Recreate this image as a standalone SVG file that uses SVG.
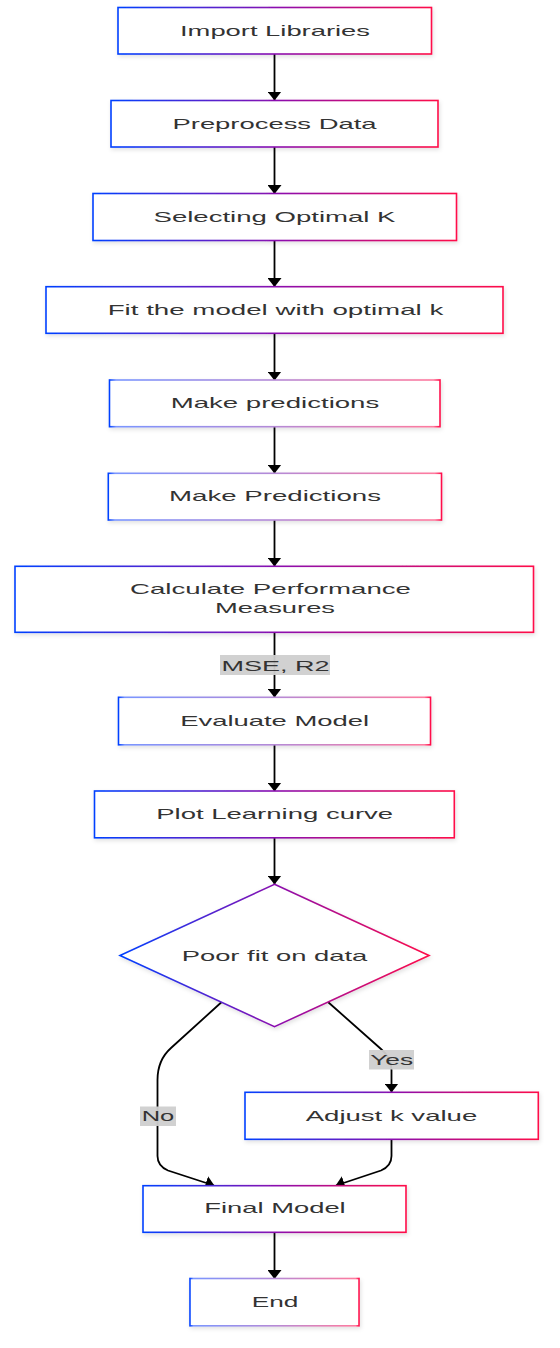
<svg xmlns="http://www.w3.org/2000/svg" width="560" height="1348" viewBox="0 0 560 1348">
<defs>
<linearGradient id="g" x1="0" y1="0" x2="1" y2="0">
<stop offset="0" stop-color="#0040ff"/>
<stop offset="0.5" stop-color="#8a10b0"/>
<stop offset="1" stop-color="#ff0a48"/>
</linearGradient>
<linearGradient id="gl" x1="0" y1="0" x2="1" y2="0">
<stop offset="0" stop-color="#0040ff"/>
<stop offset="0.02" stop-color="#7a95ff"/>
<stop offset="0.5" stop-color="#b58ad6"/>
<stop offset="0.98" stop-color="#ff7a9e"/>
<stop offset="1" stop-color="#ff0a48"/>
</linearGradient>
<filter id="sh" x="-10%" y="-20%" width="120%" height="150%">
<feDropShadow dx="1" dy="2" stdDeviation="2" flood-color="#000" flood-opacity="0.12"/>
</filter>
<marker id="ah" viewBox="0 0 9 14" refX="8.5" refY="7" markerWidth="9" markerHeight="14" markerUnits="userSpaceOnUse" orient="auto">
<path d="M0,0 L9,7 L0,14 z" fill="#000"/>
</marker>
</defs>
<style>
.n rect, .n polygon { fill: #ffffff; stroke: url(#g); stroke-width: 1.6; filter: url(#sh); }
.n.l rect { stroke: url(#gl); }
text { font-family: "Liberation Sans", Arial, sans-serif; font-size: 15px; fill: #333333; text-anchor: middle; }
.e path { fill: none; stroke: #000; stroke-width: 1.8; marker-end: url(#ah); }
.lb rect { fill: #cfcfcf; opacity: 0.95; }
</style>
<rect width="560" height="1348" fill="#ffffff"/>

<g id="connectors" class="e">
<path d="M274.5,54 L274.5,100"/>
<path d="M274.5,147 L274.5,193.5"/>
<path d="M274.5,240.5 L274.5,286.5"/>
<path d="M274.5,333.5 L274.5,380"/>
<path d="M274.5,427 L274.5,473"/>
<path d="M274.5,520 L274.5,566"/>
<path d="M274.5,632 L274.5,697"/>
<path d="M274.5,745 L274.5,791"/>
<path d="M274.5,838 L274.5,884"/>
<path d="M221.7,1002 L171,1048 Q157.5,1060 157.5,1080 L157.5,1156 Q157.5,1166 168,1170.5 L214,1185.5"/>
<path d="M328,1002 L381,1049 Q391.5,1058 391.5,1070 L391.5,1092"/>
<path d="M391.5,1139.5 L391.5,1156 Q391.5,1166 381,1170.5 L336,1185.5"/>
<path d="M274.5,1232.5 L274.5,1278.5"/>
</g>

<g id="edge-labels" class="lb">
<rect x="220" y="655" width="110" height="20"/>
<text x="275.5" y="670.5" textLength="108" lengthAdjust="spacingAndGlyphs">MSE, R2</text>
<rect x="369" y="1050" width="45" height="19.5"/>
<text x="391.7" y="1064.5" textLength="43" lengthAdjust="spacingAndGlyphs">Yes</text>
<rect x="140" y="1106.5" width="36" height="19.5"/>
<text x="158" y="1121" textLength="32.6" lengthAdjust="spacingAndGlyphs">No</text>
</g>

<g id="n1" class="n">
<rect x="118" y="7.5" width="313.5" height="46.5"/>
<text x="275" y="35.7" textLength="190" lengthAdjust="spacingAndGlyphs">Import Libraries</text>
</g>
<g id="n2" class="n">
<rect x="111" y="100.5" width="327" height="46.5"/>
<text x="274.5" y="128.5" textLength="204" lengthAdjust="spacingAndGlyphs">Preprocess Data</text>
</g>
<g id="n3" class="n">
<rect x="93" y="193.5" width="363.5" height="47"/>
<text x="274.5" y="221.7" textLength="242" lengthAdjust="spacingAndGlyphs">Selecting Optimal K</text>
</g>
<g id="n4" class="n">
<rect x="46" y="286.7" width="457" height="46.6"/>
<text x="275.5" y="315" textLength="335.6" lengthAdjust="spacingAndGlyphs">Fit the model with optimal k</text>
</g>
<g id="n5" class="n l">
<rect x="109.5" y="380" width="330.5" height="46.7"/>
<text x="275" y="408.3" textLength="208.6" lengthAdjust="spacingAndGlyphs">Make predictions</text>
</g>
<g id="n6" class="n l">
<rect x="108.3" y="473.3" width="333.2" height="46.7"/>
<text x="275" y="501.3" textLength="212" lengthAdjust="spacingAndGlyphs">Make Predictions</text>
</g>
<g id="n7" class="n">
<rect x="15" y="566.3" width="518.5" height="66"/>
<text x="270.5" y="593.5" textLength="281" lengthAdjust="spacingAndGlyphs">Calculate Performance</text>
<text x="275" y="612.8" textLength="120" lengthAdjust="spacingAndGlyphs">Measures</text>
</g>
<g id="n8" class="n l">
<rect x="118.5" y="697.3" width="312" height="47.5"/>
<text x="274.7" y="726" textLength="189" lengthAdjust="spacingAndGlyphs">Evaluate Model</text>
</g>
<g id="n9" class="n">
<rect x="94.5" y="791" width="359.8" height="46.8"/>
<text x="274.7" y="819.3" textLength="237" lengthAdjust="spacingAndGlyphs">Plot Learning curve</text>
</g>
<g id="n10" class="n">
<polygon points="274.5,884.3 429,955.5 274.5,1026.7 120,955.5"/>
<text x="274.5" y="960.7" textLength="185.6" lengthAdjust="spacingAndGlyphs">Poor fit on data</text>
</g>
<g id="n11" class="n">
<rect x="245" y="1092.3" width="293.3" height="47"/>
<text x="391.5" y="1120.7" textLength="171.6" lengthAdjust="spacingAndGlyphs">Adjust k value</text>
</g>
<g id="n12" class="n">
<rect x="143" y="1185.7" width="263" height="46.6"/>
<text x="275" y="1213.3" textLength="141.4" lengthAdjust="spacingAndGlyphs">Final Model</text>
</g>
<g id="n13" class="n l">
<rect x="190" y="1278.5" width="169" height="47.3"/>
<text x="275" y="1307.3" textLength="46.6" lengthAdjust="spacingAndGlyphs">End</text>
</g>
</svg>
